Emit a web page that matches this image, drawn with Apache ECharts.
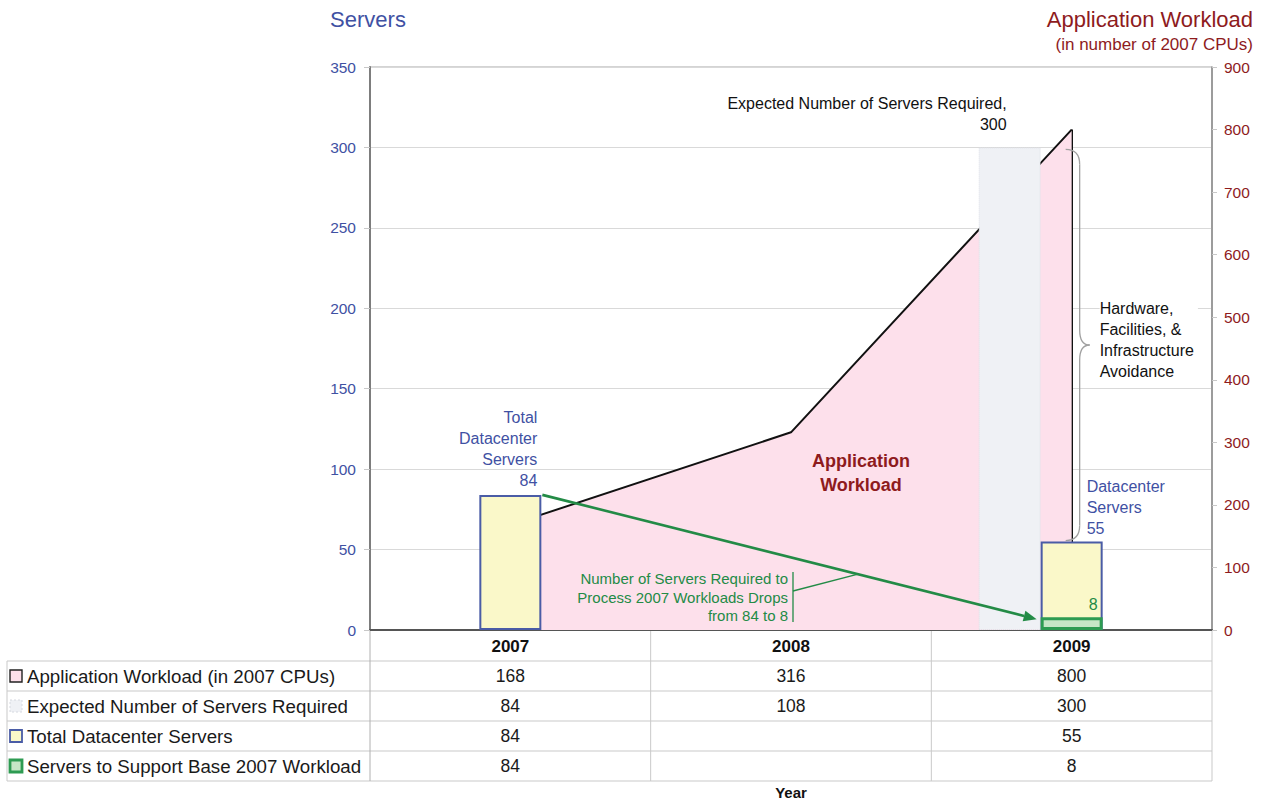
<!DOCTYPE html>
<html>
<head>
<meta charset="utf-8">
<script src="https://cdn.jsdelivr.net/npm/echarts@6/dist/echarts.min.js"></script>
<style>
  html, body { margin: 0; padding: 0; background: #fff; }
  #chart { width: 1266px; height: 803px; }
</style>
</head>
<body>
<div id="chart"></div>
<script>
// ---- data ----
const years = ['2007', '2008', '2009'];
const workload = [168, 316, 800];        // application workload, in 2007 CPUs
const expected = [84, 108, 300];         // expected number of servers required
const totalServers = [84, null, 55];     // total datacenter servers
const baseServers = [84, null, 8];       // servers needed for the 2007 base workload
const serverAxis = { min: 0, max: 350, step: 50 };
const workloadAxis = { min: 0, max: 900, step: 100 };
const rowLabels = [
  'Application Workload (in 2007 CPUs)',
  'Expected Number of Servers Required',
  'Total Datacenter Servers',
  'Servers to Support Base 2007 Workload'
];

// ---- styles ----
const FONT = '"Liberation Sans", Arial, Helvetica, sans-serif';
const BLUE = '#3f51a3';
const RED = '#8e1b1d';
const GREEN = '#238b46';
const PINK = '#fde0eb';
const GREY_BAR = '#eff1f5';
const YELLOW = '#faf8c9';
const BAR_BLUE = '#4a5ca6';
const LIGHT_GREEN = '#c6e6c6';
const BAR_GREEN = '#2e9b52';
const BAR_W = 62;

const GRID = { left: 370, right: 54, top: 67, bottom: 173 };

// bars are only drawn for some years; the table below lists every value
const only = (arr, shownYears) => arr.map((v, i) => (shownYears.includes(years[i]) && v != null) ? v : '-');

const chart = echarts.init(document.getElementById('chart'), null, { renderer: 'svg' });

const option = {
  animation: false,
  backgroundColor: '#fff',
  textStyle: { fontFamily: FONT },
  grid: Object.assign({ show: true, borderColor: '#a8a8a8', borderWidth: 1, containLabel: false, outerBoundsMode: 'none' }, GRID),
  xAxis: [
    {
      type: 'category', data: years, boundaryGap: true,
      axisLine: { show: true, lineStyle: { color: '#555', width: 2 } },
      axisTick: { show: false },
      axisLabel: { color: '#111', fontSize: 17, fontWeight: 'bold', margin: 8, fontFamily: FONT },
      name: 'Year', nameLocation: 'middle', nameGap: 155,
      nameTextStyle: { color: '#111', fontSize: 15, fontWeight: 'bold', fontFamily: FONT },
      splitLine: { show: false }
    },
    { type: 'category', data: years, boundaryGap: true, show: false }
  ],
  yAxis: [
    {
      type: 'value', position: 'left',
      min: serverAxis.min, max: serverAxis.max, interval: serverAxis.step,
      axisLine: { show: true, lineStyle: { color: '#7d7d7d', width: 2 } },
      axisTick: { show: true, length: 6, lineStyle: { color: '#c8c8c8' } },
      axisLabel: { color: BLUE, fontSize: 15.5, margin: 14, fontFamily: FONT },
      splitLine: { show: true, lineStyle: { color: '#d9d9d9', width: 1 } }
    },
    {
      type: 'value', position: 'right',
      min: workloadAxis.min, max: workloadAxis.max, interval: workloadAxis.step,
      axisLine: { show: true, lineStyle: { color: '#8a8a8a', width: 1.5 } },
      axisTick: { show: true, length: 5, lineStyle: { color: '#c8c8c8' } },
      axisLabel: { color: RED, fontSize: 15.5, margin: 12, fontFamily: FONT },
      splitLine: { show: false }
    }
  ],
  series: [
    {
      name: 'Application Workload (in 2007 CPUs)',
      type: 'line', xAxisIndex: 0, yAxisIndex: 1, z: 1,
      data: workload, symbol: 'none', smooth: false,
      lineStyle: { color: '#111', width: 2 },
      areaStyle: { color: PINK, opacity: 1 },
      markLine: {
        z: 1, silent: true, symbol: ['none', 'none'],
        label: { show: false },
        lineStyle: { color: '#111', width: 2, type: 'solid' },
        data: [[{ xAxis: years[2], yAxis: 0 }, { xAxis: years[2], yAxis: workload[2] }]]
      }
    },
    {
      name: 'Expected Number of Servers Required',
      type: 'bar', xAxisIndex: 0, yAxisIndex: 0, z: 3,
      barWidth: BAR_W, barGap: '0%',
      data: only(expected, ['2009']),
      itemStyle: { color: GREY_BAR, borderColor: '#dde0e7', borderWidth: 1, borderType: 'dotted' },
      label: {
        show: true, position: 'top', distance: 0, align: 'right', offset: [-3, -12],
        formatter: p => 'Expected Number of Servers Required,\n' + p.value,
        color: '#111', fontSize: 16, lineHeight: 21, fontFamily: FONT
      }
    },
    {
      name: 'Total Datacenter Servers',
      type: 'bar', xAxisIndex: 0, yAxisIndex: 0, z: 3,
      barWidth: BAR_W, barGap: '0%',
      data: totalServers.map((v, i) => {
        if (v == null) return '-';
        return i === 0
          ? { value: v, label: { align: 'right', offset: [27, -4], formatter: 'Total\nDatacenter\nServers\n{c}' } }
          : { value: v, label: { align: 'left', offset: [15, -3], formatter: 'Datacenter\nServers\n{c}' } };
      }),
      itemStyle: { color: YELLOW, borderColor: BAR_BLUE, borderWidth: 2 },
      label: { show: true, position: 'top', distance: 0, color: BLUE, fontSize: 16, lineHeight: 21, fontFamily: FONT }
    },
    {
      // empty slot so the total bar sits centred with the expected bar at its left
      name: 'slot', type: 'bar', xAxisIndex: 0, yAxisIndex: 0,
      barWidth: BAR_W, barGap: '0%', data: [], silent: true
    },
    {
      name: 'Servers to Support Base 2007 Workload',
      type: 'bar', xAxisIndex: 1, yAxisIndex: 0, z: 4,
      barWidth: BAR_W,
      data: only(baseServers, ['2009']),
      itemStyle: { color: LIGHT_GREEN, borderColor: BAR_GREEN, borderWidth: 3 },
      label: {
        show: true, position: 'top', distance: 0, align: 'right', offset: [26, -5],
        formatter: '{c}', color: GREEN, fontSize: 16, fontFamily: FONT
      }
    }
  ]
};

chart.setOption(option);

// ---- annotations and data table, placed through the chart's own axes ----
const cx = y => chart.convertToPixel({ xAxisIndex: 0 }, y);
const sy = v => chart.convertToPixel({ yAxisIndex: 0 }, v);
const c = years.map(cx);
const base = sy(0);
const plotL = GRID.left, plotR = 1266 - GRID.right;
const half = BAR_W / 2;

const g = [];
const txt = (x, y, text, o) => g.push({
  type: 'text', silent: true, z: 50,
  style: Object.assign({ x, y, text, fontFamily: FONT, fontSize: 16, fill: '#111', align: 'left', verticalAlign: 'middle' }, o || {})
});
const line = (x1, y1, x2, y2, stroke, lineWidth, z) => g.push({
  type: 'line', silent: true, z: z || 40,
  shape: { x1, y1, x2, y2 }, style: { stroke, lineWidth }
});
const curve = (x1, y1, cpx1, cpy1, x2, y2, stroke, lineWidth) => g.push({
  type: 'bezierCurve', silent: true, z: 40,
  shape: { x1, y1, cpx1, cpy1, x2, y2 }, style: { stroke, lineWidth, fill: null }
});

// axis titles
txt(368, 19, 'Servers', { fill: BLUE, fontSize: 22, align: 'center' });
txt(1253, 19, 'Application Workload', { fill: RED, fontSize: 22, align: 'right' });
txt(1253, 44, '(in number of 2007 CPUs)', { fill: RED, fontSize: 17, align: 'right' });

// area caption
txt(c[1] + 70, 473, 'Application\nWorkload', { fill: RED, fontSize: 18, fontWeight: 'bold', align: 'center', lineHeight: 24 });

// green arrow: from the 2007 bar top down to the 2009 base-workload bar
const s = [c[0] + half + 1, sy(totalServers[0])];
const e = [c[2] - half - 4, sy(baseServers[2]) + 2];
const dx = e[0] - s[0], dy = e[1] - s[1], len = Math.hypot(dx, dy);
const ux = dx / len, uy = dy / len, nx = -uy, ny = ux;
const headL = 13, headW = 5.5;
const b = [e[0] - ux * headL, e[1] - uy * headL];
line(s[0], s[1], b[0], b[1], GREEN, 2.6, 45);
g.push({
  type: 'polygon', silent: true, z: 45,
  shape: { points: [e, [b[0] + nx * headW, b[1] + ny * headW], [b[0] - nx * headW, b[1] - ny * headW]] },
  style: { fill: GREEN }
});

// caption for the arrow, with its bracket and leader
const bx = c[1] + 2;
line(bx, 572, bx, 622, GREEN, 1.3);
const lx = c[1] + 67;
line(bx, 591, lx, s[1] + (lx - s[0]) * dy / dx, GREEN, 1.3);
txt(c[1] - 3, 597, 'Number of Servers Required to\nProcess 2007 Workloads Drops\nfrom 84 to 8',
  { fill: GREEN, fontSize: 15, align: 'right', lineHeight: 18.5 });

// brace between expected and actual servers in 2009
const yT = sy(expected[2]) + 2, yB = sy(totalServers[2]) - 1, ym = (yT + yB) / 2;
const x0 = c[2] - 6, xv = c[2] + 8, xt = c[2] + 18, r = 15;
const BR = '#a0a0a0';
curve(x0, yT, xv, yT, xv, yT + r, BR, 1.3);
line(xv, yT + r, xv, ym - r, BR, 1.3);
curve(xv, ym - r, xv, ym, xt, ym, BR, 1.3);
curve(xt, ym, xv, ym, xv, ym + r, BR, 1.3);
line(xv, ym + r, xv, yB - r, BR, 1.3);
curve(xv, yB - r, xv, yB, x0, yB, BR, 1.3);
txt(c[2] + 28, ym - 5, 'Hardware,\nFacilities, &\nInfrastructure\nAvoidance',
  { fontSize: 16, lineHeight: 20.7, backgroundColor: '#fff', padding: [2, 4, 2, 0] });

// ---- data table ----
const rowLines = [661, 691, 721, 751, 781];
const tableL = 7;
const colEdges = [plotL, (c[0] + c[1]) / 2, (c[1] + c[2]) / 2, plotR];
const GRIDC = '#c9c9c9';
rowLines.forEach(y => line(tableL, y, plotR, y, GRIDC, 1, 30));
line(tableL, rowLines[0], tableL, rowLines[4], GRIDC, 1, 30);
colEdges.forEach((x, i) => line(x, base + 1, x, rowLines[4], i === 0 ? '#b0b0b0' : GRIDC, 1, 30));

const rows = [workload, expected, totalServers, baseServers];
const keys = [
  { fill: PINK, stroke: '#222', lw: 1.4, dash: null },
  { fill: GREY_BAR, stroke: '#d6d9e0', lw: 1, dash: [2, 2] },
  { fill: YELLOW, stroke: BAR_BLUE, lw: 1.8, dash: null },
  { fill: LIGHT_GREEN, stroke: BAR_GREEN, lw: 2.8, dash: null }
];
rows.forEach((vals, r) => {
  const yc = (rowLines[r] + rowLines[r + 1]) / 2;
  const k = keys[r];
  g.push({
    type: 'rect', silent: true, z: 41,
    shape: { x: 10, y: yc - 6, width: 12, height: 12 },
    style: { fill: k.fill, stroke: k.stroke, lineWidth: k.lw, lineDash: k.dash }
  });
  txt(27, yc, rowLabels[r], { fontSize: 18.7, fill: '#1a1a1a' });
  vals.forEach((v, i) => {
    if (v != null) txt(c[i], yc, String(v), { fontSize: 17.5, fill: '#1a1a1a', align: 'center' });
  });
});

chart.setOption({ graphic: { elements: g } });
</script>
</body>
</html>
